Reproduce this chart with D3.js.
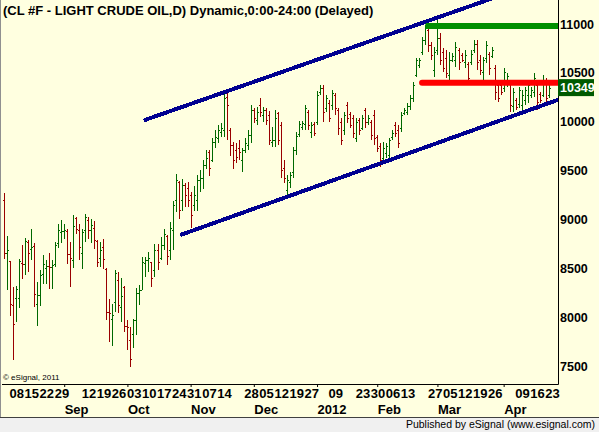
<!DOCTYPE html>
<html>
<head>
<meta charset="utf-8">
<script src="https://cdnjs.cloudflare.com/ajax/libs/d3/7.8.5/d3.min.js"></script>
<style>
body { margin: 0; background: #ffffff; }
svg { display: block; font-family: "Liberation Sans", Arial, sans-serif; }
</style>
</head>
<body>
<svg id="canvas" width="599" height="432"></svg>
<script>
// daily bars, Aug 4 2011 .. Apr 24 2012 (prices in cents)
let opens = [
    9201, 8659, 8578, 8128, 8199, 8199, 8557, 8547, 8772, 8700,
    8731, 8138, 8230, 8445, 8506, 8526, 8516, 8547, 8762, 8874,
    8884, 8884, 8649, 8588, 9017, 8895, 8659, 8895, 8997, 8895,
    8915, 8782, 8608, 8721, 8496, 8056, 7985, 8158, 8383, 8107,
    8312, 7913, 7770, 7832, 7975, 8250, 8281, 8557, 8588, 8567,
    8486, 8690, 8608, 8741, 8833, 8690, 8895, 9201, 9385, 9201,
    9354, 9324, 9252, 9150, 9201, 9405, 9426, 9559, 9692, 9610,
    9794, 9835, 9896, 9916, 10254, 9916, 9763, 9712, 9733, 9610,
    9712, 9763, 9865, 10121, 10019, 10172, 10070, 10121, 10070, 9794,
    9814, 10090, 9968, 9528, 9303, 9385, 9487, 9712, 9876, 9947,
    9978, 10100, 9896, 9978, 9998, 10305, 10346, 10141, 10192, 10172,
    10274, 10121, 9998, 9916, 10172, 10080, 10039, 9835, 10019, 9937,
    10121, 9998, 9998, 10070, 9845, 9753, 9630, 9681, 9661, 9845,
    9968, 9916, 9937, 10090, 10100, 10162, 10243, 10479, 10581, 10714,
    10836, 10938, 10785, 10530, 10734, 10857, 10714, 10652, 10479, 10632,
    10632, 10734, 10683, 10611, 10591, 10611, 10734, 10796, 10632, 10509,
    10652, 10693, 10673, 10550, 10376, 10376, 10346, 10397, 10387, 10162,
    10223, 10182, 10172, 10223, 10274, 10274, 10305, 10376, 10284, 10274,
    10407, 10274
]
let highs = [
    9273, 8833, 8578, 8312, 8322, 8598, 8741, 8813, 8792, 8905,
    8762, 8363, 8486, 8639, 8588, 8659, 8588, 8772, 8956, 8997,
    8956, 8905, 8772, 9048, 9027, 8956, 8905, 9058, 9027, 9007,
    8986, 8792, 8772, 8802, 8506, 8189, 8138, 8486, 8465, 8404,
    8322, 7975, 7903, 7985, 8302, 8332, 8618, 8618, 8670, 8567,
    8751, 8751, 8823, 8905, 8843, 8976, 9191, 9467, 9395, 9416,
    9375, 9385, 9283, 9344, 9457, 9508, 9610, 9712, 9712, 9835,
    9916, 9968, 9988, 10305, 10325, 9937, 9794, 9784, 9814, 9733,
    9835, 9916, 10172, 10141, 10152, 10243, 10152, 10141, 10111, 9947,
    10121, 10100, 9998, 9610, 9457, 9487, 9743, 9896, 10009, 10009,
    10172, 10121, 9998, 9998, 10315, 10376, 10376, 10274, 10223, 10325,
    10295, 10141, 10039, 10100, 10203, 10100, 10070, 10039, 10039, 10070,
    10141, 10070, 10019, 10121, 9865, 9784, 9794, 9784, 9835, 9916,
    9998, 9968, 10100, 10141, 10192, 10274, 10407, 10652, 10652, 10867,
    10990, 10969, 10816, 10765, 11061, 10908, 10754, 10734, 10714, 10704,
    10816, 10754, 10704, 10734, 10611, 10734, 10836, 10836, 10683, 10663,
    10826, 10714, 10765, 10581, 10407, 10397, 10550, 10499, 10407, 10346,
    10243, 10356, 10325, 10356, 10428, 10356, 10499, 10407, 10305, 10479,
    10448, 10397
]
let lows = [
    8598, 8281, 8015, 7566, 7954, 8097, 8394, 8434, 8465, 8588,
    8107, 7913, 8118, 8343, 8343, 8291, 8291, 8516, 8710, 8762,
    8802, 8547, 8312, 8506, 8854, 8588, 8496, 8772, 8802, 8762,
    8700, 8516, 8516, 8496, 7975, 7750, 7709, 8056, 8046, 7954,
    7852, 7668, 7494, 7689, 7821, 8128, 8281, 8414, 8465, 8312,
    8414, 8486, 8588, 8690, 8537, 8588, 8690, 9078, 9007, 9089,
    9130, 9130, 8915, 9089, 9089, 9283, 9313, 9518, 9446, 9589,
    9733, 9784, 9845, 9845, 9814, 9651, 9518, 9579, 9610, 9487,
    9681, 9712, 9784, 9988, 9968, 10049, 9998, 9968, 9763, 9743,
    9743, 9763, 9426, 9375, 9232, 9324, 9426, 9661, 9845, 9916,
    9916, 9916, 9835, 9855, 9968, 10274, 9998, 10100, 9998, 10121,
    10070, 9865, 9763, 9865, 9988, 9937, 9835, 9794, 9865, 9916,
    9937, 9968, 9814, 9763, 9692, 9538, 9589, 9630, 9589, 9814,
    9845, 9733, 9896, 10070, 10070, 10121, 10203, 10458, 10550, 10683,
    10785, 10714, 10632, 10458, 10683, 10581, 10509, 10448, 10428, 10611,
    10560, 10530, 10611, 10550, 10376, 10581, 10704, 10530, 10479, 10428,
    10601, 10479, 10652, 10223, 10203, 10274, 10305, 10356, 10100, 10100,
    10121, 10141, 10100, 10172, 10192, 10243, 10254, 10121, 10192, 10254,
    10192, 10243
]
let closes = [
    8659, 8690, 8138, 7934, 8291, 8578, 8547, 8782, 8659, 8721,
    8240, 8230, 8434, 8547, 8526, 8516, 8537, 8741, 8895, 8884,
    8895, 8649, 8608, 8935, 8905, 8721, 8874, 9027, 8895, 8946,
    8792, 8567, 8690, 8598, 8056, 8046, 8026, 8455, 8128, 8220,
    7913, 7903, 7576, 7975, 8250, 8281, 8567, 8588, 8608, 8404,
    8690, 8567, 8741, 8854, 8629, 8915, 9150, 9405, 9099, 9354,
    9252, 9201, 9048, 9252, 9405, 9426, 9559, 9630, 9528, 9794,
    9845, 9916, 9937, 10243, 10172, 9763, 9610, 9641, 9692, 9712,
    9784, 9865, 10121, 10039, 10100, 10100, 10121, 10019, 9814, 9814,
    10039, 9814, 9508, 9426, 9405, 9457, 9712, 9855, 9978, 9988,
    10141, 9968, 9968, 9886, 10274, 10346, 10100, 10243, 10039, 10295,
    10141, 9937, 9814, 10070, 10039, 9968, 9886, 9998, 9916, 10039,
    9998, 10039, 9865, 9835, 9733, 9610, 9733, 9753, 9814, 9886,
    9886, 9784, 10070, 10121, 10162, 10243, 10376, 10632, 10632, 10836,
    10959, 10785, 10683, 10714, 10857, 10632, 10550, 10499, 10632, 10673,
    10765, 10611, 10632, 10683, 10448, 10693, 10796, 10611, 10530, 10632,
    10785, 10550, 10734, 10305, 10243, 10305, 10509, 10468, 10172, 10305,
    10152, 10325, 10274, 10325, 10376, 10325, 10448, 10203, 10223, 10428,
    10243, 10349
]

// bottom axis: bar index of each label
let dayTickIdx = [2, 7, 12, 17, 26, 31, 36, 41, 46, 51, 56, 61, 66, 71, 80, 85, 90, 95, 100,
    108, 117, 122, 127, 132, 141, 146, 151, 156, 161, 170, 175, 180]
let dayTickLabels = ['08', '15', '22', '29', '12', '19', '26', '03', '10', '17', '24', '31', '07', '14', '28',
    '05', '12', '19', '27', '09', '23', '30', '06', '13', '27', '05', '12', '19', '26', '09', '16', '23']
let monthTickIdx = [20, 41, 62, 83, 104, 124, 144, 166]
let monthTickLabels = ['Sep', 'Oct', 'Nov', 'Dec', '2012', 'Feb', 'Mar', 'Apr']

let priceTicks = [7500, 8000, 8500, 9000, 9500, 10000, 10500, 11000]

// drawn studies: [bar index, price]
let upperChannel = [[47, 10020], [162, 11260]]
let lowerChannel = [[59, 8845], [185, 10235]]
let resistanceStart = 140
let resistanceLevel = 10980
let supportStart = 138.9
let supportLevel = 10400

let canvas = d3.select('#canvas')
let plotRight = 558
let plotBottom = 384

let xScale = d3.scaleLinear().domain([0, 181]).range([4, 548.8])
let yScale = d3.scaleLinear().domain([7500, 11000]).range([366, 24])

canvas.append('rect')
        .attr('width', 599).attr('height', 432)
        .attr('fill', '#ffffe0')

canvas.append('rect')
        .attr('x', 0).attr('y', 418)
        .attr('width', 599).attr('height', 14)
        .attr('fill', '#f0f0f0')
canvas.append('line')
        .attr('x1', 0).attr('x2', 599)
        .attr('y1', 417.5).attr('y2', 417.5)
        .attr('stroke', '#404040')
canvas.append('line')
        .attr('x1', 0.5).attr('x2', 0.5)
        .attr('y1', 0).attr('y2', 417)
        .attr('stroke', '#909090')

canvas.append('clipPath')
        .attr('id', 'plotClip')
        .append('rect')
        .attr('x', 2).attr('y', 0)
        .attr('width', plotRight - 2).attr('height', plotBottom)

let plot = canvas.append('g').attr('clip-path', 'url(#plotClip)')

// ohlc bars
let barColor = (i) => closes[i] >= opens[i] ? '#006800' : '#990000'
let bars = plot.append('g')
        .attr('shape-rendering', 'crispEdges')
        .selectAll('g')
        .data(d3.range(opens.length))
        .enter()
        .append('g')
        .attr('fill', (i) => barColor(i))

bars.append('rect')
        .attr('x', (i) => Math.round(xScale(i)))
        .attr('y', (i) => Math.round(yScale(highs[i])))
        .attr('width', 1)
        .attr('height', (i) => Math.max(1, Math.round(yScale(lows[i])) - Math.round(yScale(highs[i]))))
bars.append('rect')
        .attr('x', (i) => Math.round(xScale(i)) - 1)
        .attr('y', (i) => Math.round(yScale(opens[i])))
        .attr('width', 1).attr('height', 1)
bars.append('rect')
        .attr('x', (i) => Math.round(xScale(i)) + 1)
        .attr('y', (i) => Math.round(yScale(closes[i])))
        .attr('width', 1).attr('height', 1)

// horizontal levels
plot.append('line')
        .attr('x1', xScale(resistanceStart)).attr('x2', plotRight)
        .attr('y1', yScale(resistanceLevel)).attr('y2', yScale(resistanceLevel))
        .attr('stroke', '#009000')
        .attr('stroke-width', 6)
plot.append('line')
        .attr('x1', xScale(supportStart)).attr('x2', plotRight + 3)
        .attr('y1', yScale(supportLevel)).attr('y2', yScale(supportLevel))
        .attr('stroke', '#ff0000')
        .attr('stroke-width', 6)
        .attr('stroke-linecap', 'round')

// channel lines
let channelLine = d3.line()
        .x((d) => xScale(d[0]))
        .y((d) => yScale(d[1]))
plot.selectAll('path.channel')
        .data([upperChannel, lowerChannel])
        .enter()
        .append('path')
        .attr('class', 'channel')
        .attr('d', (d) => channelLine(d))
        .attr('fill', 'none')
        .attr('stroke', '#000090')
        .attr('stroke-width', 4)
        .attr('stroke-linecap', 'round')
        .attr('shape-rendering', 'crispEdges')

// frame
canvas.append('line')
        .attr('x1', 2).attr('x2', plotRight + 0.5)
        .attr('y1', plotBottom + 0.5).attr('y2', plotBottom + 0.5)
        .attr('stroke', '#000')
canvas.append('line')
        .attr('x1', plotRight + 0.5).attr('x2', plotRight + 0.5)
        .attr('y1', 0).attr('y2', plotBottom + 0.5)
        .attr('stroke', '#000')

// right price axis
let yAxis = d3.axisRight(yScale)
        .tickValues(priceTicks)
        .tickSize(0)
        .tickPadding(2)
        .tickFormat(d3.format('d'))
let yAxisG = canvas.append('g')
        .attr('transform', 'translate(' + plotRight + ',0)')
        .call(yAxis)
yAxisG.select('.domain').remove()
yAxisG.selectAll('text')
        .attr('font-family', '"Liberation Sans", Arial, sans-serif')
        .attr('font-size', 12.5)
        .attr('font-weight', 'bold')
        .attr('fill', '#000')

// bottom date axis
let xAxis = d3.axisBottom(xScale)
        .tickValues(dayTickIdx)
        .tickSize(0)
        .tickFormat((d, i) => dayTickLabels[i])
let xAxisG = canvas.append('g')
        .attr('transform', 'translate(0,' + plotBottom + ')')
        .call(xAxis)
xAxisG.select('.domain').remove()
xAxisG.selectAll('text')
        .attr('text-anchor', 'start')
        .attr('x', -1)
        .attr('y', 13.5)
        .attr('dy', 0)
        .attr('font-family', '"Liberation Sans", Arial, sans-serif')
        .attr('font-size', 13)
        .attr('font-weight', 'bold')
        .attr('fill', '#000')

let monthAxis = d3.axisBottom(xScale)
        .tickValues(monthTickIdx)
        .tickSize(3)
        .tickFormat((d, i) => monthTickLabels[i])
let monthAxisG = canvas.append('g')
        .attr('transform', 'translate(0,' + plotBottom + ')')
        .call(monthAxis)
monthAxisG.select('.domain').remove()
monthAxisG.selectAll('line').attr('stroke', '#000')
monthAxisG.selectAll('text')
        .attr('text-anchor', 'start')
        .attr('x', 0)
        .attr('y', 29.5)
        .attr('dy', 0)
        .attr('font-family', '"Liberation Sans", Arial, sans-serif')
        .attr('font-size', 13)
        .attr('font-weight', 'bold')
        .attr('fill', '#000')

// last price tag
let lastClose = closes[closes.length - 1]
canvas.append('rect')
        .attr('x', plotRight).attr('y', yScale(lastClose) - 8.5)
        .attr('width', 36).attr('height', 17)
        .attr('fill', '#005a00')
canvas.append('text')
        .attr('x', plotRight + 2).attr('y', yScale(lastClose) + 4.5)
        .attr('font-size', 12.5)
        .attr('font-weight', 'bold')
        .attr('fill', '#ffffff')
        .text(lastClose)

// texts
canvas.append('text')
        .attr('x', 3).attr('y', 15)
        .attr('font-size', 13)
        .attr('font-weight', 'bold')
        .attr('fill', '#000')
        .text('(CL #F - LIGHT CRUDE OIL,D) Dynamic,0:00-24:00 (Delayed)')
canvas.append('text')
        .attr('x', 3).attr('y', 380)
        .attr('font-size', 8)
        .attr('fill', '#000')
        .text('\u00a9 eSignal, 2011')
canvas.append('text')
        .attr('x', 595).attr('y', 428)
        .attr('text-anchor', 'end')
        .attr('font-size', 10.5)
        .attr('fill', '#000')
        .text('Published by eSignal (www.esignal.com)')
</script>
</body>
</html>
